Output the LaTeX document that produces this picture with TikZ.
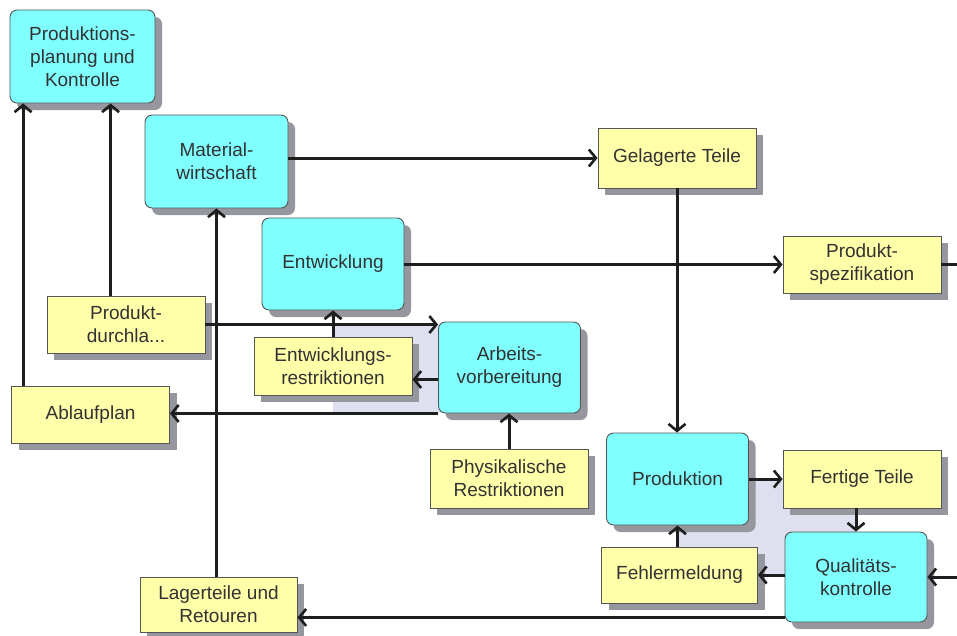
\documentclass[tikz,border=0pt]{standalone}
\usepackage{fontspec}
\setmainfont{Liberation Sans}
\usetikzlibrary{arrows.meta,shadows}

\definecolor{procfill}{RGB}{128,255,255}
\definecolor{datafill}{RGB}{255,255,170}
\definecolor{edgegray}{RGB}{85,85,85}
\definecolor{shadowgray}{RGB}{150,150,158}
\definecolor{lanefill}{RGB}{222,224,240}
\definecolor{inkgray}{RGB}{50,50,50}
\definecolor{linecol}{RGB}{30,30,30}

\tikzset{
  boxbase/.style={draw=edgegray, line width=0.9pt, inner sep=0pt, align=center,
    text=inkgray, font=\fontsize{19}{23}\selectfont,
    drop shadow={shadow xshift=7pt, shadow yshift=-7pt, fill=shadowgray, opacity=1}},
  proc/.style={boxbase, fill=procfill, rounded corners=7pt,
    minimum width=142pt, minimum height=92pt},
  datum/.style={boxbase, fill=datafill, minimum width=158pt, minimum height=57pt},
  flow/.style={draw=linecol, line width=3pt,
    -{Straight Barb[length=7pt,width=17pt,line width=2.6pt]}},
  plainflow/.style={draw=linecol, line width=3pt},
}

\begin{document}
\begin{tikzpicture}[x=1pt,y=-1pt]
\useasboundingbox (0,0) rectangle (957,635);

% shaded lanes behind the two feedback loops
\fill[lanefill] (333,324) rectangle (509,413);
\fill[lanefill] (677,479) rectangle (857,577);

% processes
\node[proc, minimum width=145pt, minimum height=93pt] (ppk) at (82.5,56.5) {Produktions-\\planung und\\Kontrolle};
\node[proc, minimum width=143pt, minimum height=93pt] (mat) at (216.5,161.5) {Material-\\wirtschaft};
\node[proc] (ent) at (333,264) {Entwicklung};
\node[proc, minimum height=91pt] (arb) at (509.5,367.5) {Arbeits-\\vorbereitung};
\node[proc] (prod) at (677.5,479) {Produktion};
\node[proc, minimum height=90pt] (qual) at (856,577) {Qualitäts-\\kontrolle};

% data objects
\node[datum, minimum height=60pt] (gel) at (677,158) {Gelagerte Teile};
\node[datum] (spez) at (862,264.5) {Produkt-\\spezifikation};
\node[datum] (dur) at (126,324.5) {Produkt-\\durchla...};
\node[datum, minimum height=58pt] (erst) at (333,366) {Entwicklungs-\\restriktionen};
\node[datum] (abl) at (90.5,414.5) {Ablaufplan};
\node[datum, minimum height=59pt] (phys) at (509,478.5) {Physikalische\\Restriktionen};
\node[datum, minimum height=58pt] (fert) at (862,479) {Fertige Teile};
\node[datum, minimum width=156pt, minimum height=56pt] (fehl) at (679.5,575) {Fehlermeldung};
\node[datum, minimum width=157pt, minimum height=55pt] (lag) at (218.5,604.5) {Lagerteile und\\Retouren};

% open ends at the right border
\coordinate (spezout) at (957,264.5);
\coordinate (qualin) at (957,577);

% connectors
\draw[flow] ([xshift=12pt]abl.north west) -- ([xshift=12pt]abl.north west |- ppk.south);
\draw[flow] ([xshift=64pt]dur.north west) -- ([xshift=64pt]dur.north west |- ppk.south);
\draw[flow] (lag.north -| mat.south) -- (mat.south);
\draw[flow] (mat.east |- gel.west) -- (gel.west);
\draw[flow] (gel.south) -- (prod.north -| gel.south);
\draw[flow] (ent.east |- spez.west) -- (spez.west);
\draw[plainflow] (spez.east) -- (spezout);
\draw[flow] (dur.east) -- (dur.east -| arb.west);
\draw[flow] (erst.north) -- (ent.south);
\draw[flow] ([yshift=-12pt]arb.west) -- ([yshift=-12pt]arb.west -| erst.east);
\draw[flow] (arb.south west) -- (arb.south west -| abl.east);
\draw[flow] (phys.north) -- (arb.south -| phys.north);
\draw[flow] (prod.east) -- (fert.west);
\draw[flow] (qual.north |- fert.south) -- (qual.north);
\draw[flow] (qual.west |- fehl.east) -- (fehl.east);
\draw[flow] (fehl.north -| prod.south) -- (prod.south);
\draw[flow] (qualin) -- (qual.east);
\draw[flow] ([yshift=5pt]qual.south west) -- ([yshift=5pt]qual.south west -| lag.east);

\end{tikzpicture}
\end{document}
